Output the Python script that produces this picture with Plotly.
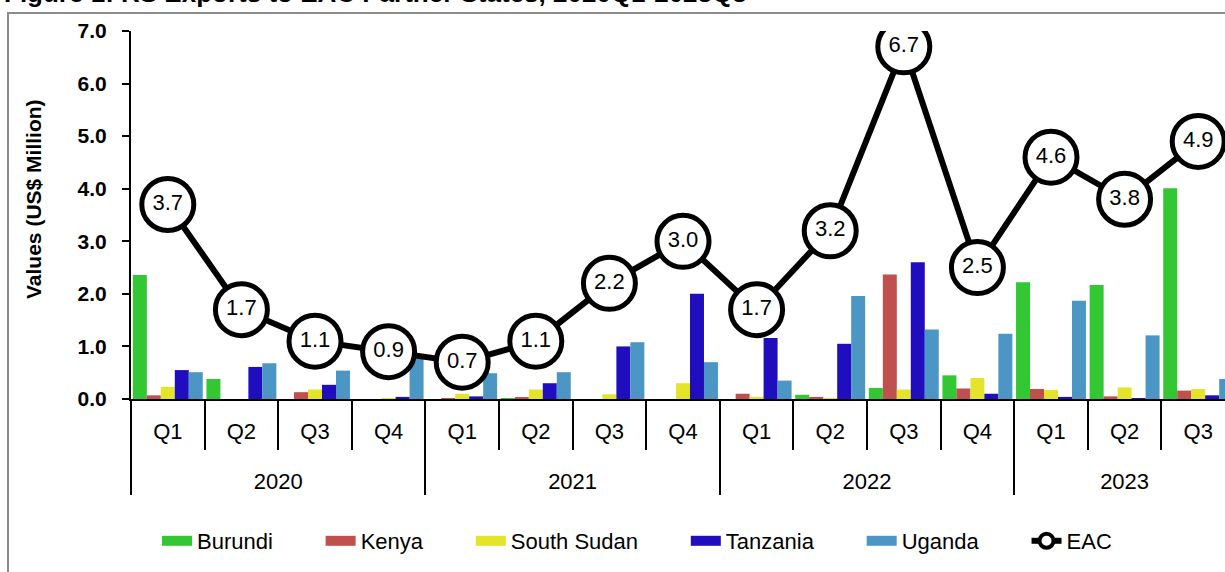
import plotly.graph_objects as go

years = ["2020"] * 4 + ["2021"] * 4 + ["2022"] * 4 + ["2023"] * 3
quarters = ["Q1", "Q2", "Q3", "Q4"] * 3 + ["Q1", "Q2", "Q3"]

burundi = [2.36, 0.38, 0.00, 0.00, 0.00, 0.01, 0.00, 0.00, 0.00, 0.08, 0.21, 0.45, 2.22, 2.17, 4.01]
kenya = [0.07, 0.00, 0.13, 0.00, 0.01, 0.03, 0.00, 0.00, 0.10, 0.04, 2.37, 0.20, 0.19, 0.05, 0.16]
south_sudan = [0.23, 0.00, 0.18, 0.01, 0.10, 0.18, 0.09, 0.30, 0.04, 0.01, 0.18, 0.40, 0.17, 0.22, 0.19]
tanzania = [0.55, 0.61, 0.27, 0.04, 0.05, 0.30, 1.00, 2.00, 1.16, 1.05, 2.60, 0.10, 0.04, 0.01, 0.07]
uganda = [0.51, 0.68, 0.54, 0.80, 0.49, 0.51, 1.08, 0.70, 0.35, 1.96, 1.32, 1.24, 1.87, 1.21, 0.38]
eac = [3.7, 1.7, 1.1, 0.9, 0.7, 1.1, 2.2, 3.0, 1.7, 3.2, 6.7, 2.5, 4.6, 3.8, 4.9]

y_ticks = [0, 1, 2, 3, 4, 5, 6, 7]

FONT = "Liberation Sans, Arial, sans-serif"
NBSP = "\u00a0"

# quarter labels get an empty second line so the year row sits lower
x = [years, [q + "<br><span style='font-size:50px'>" + NBSP + "</span>" for q in quarters]]
fig = go.Figure()
series = [
    ("Burundi", burundi, "#33C733"),
    ("Kenya", kenya, "#C0504D"),
    ("South Sudan", south_sudan, "#E4E42A"),
    ("Tanzania", tanzania, "#200DBE"),
    ("Uganda", uganda, "#4B96C4"),
]
for name, vals, col in series:
    fig.add_trace(go.Bar(x=x, y=vals, name=name, legendgroup=name, showlegend=False,
                         marker=dict(color=col, line=dict(width=0))))

fig.add_trace(go.Scatter(
    x=x, y=eac, name="EAC", legendgroup="EAC", showlegend=False, mode="lines+markers",
    line=dict(color="black", width=6),
    marker=dict(size=52, color="white", line=dict(color="black", width=5)),
))
fig.add_trace(go.Scatter(
    x=x, y=eac, mode="text", text=[f"{v:.1f}" for v in eac], showlegend=False,
    textposition="middle center", textfont=dict(family=FONT, size=22, color="black"),
    hoverinfo="skip",
))

# legend entries (wide swatches), padded so spacing matches the original
pad = NBSP * 7
for name, vals, col in series:
    fig.add_trace(go.Scatter(x=x, y=[None] * len(vals), name=name + pad, legendgroup=name,
                             mode="lines", line=dict(color=col, width=14), hoverinfo="skip"))
fig.add_trace(go.Scatter(x=x, y=[None] * len(eac), name="EAC", legendgroup="EAC",
                         mode="lines+markers", line=dict(color="black", width=6),
                         marker=dict(size=14, color="white", line=dict(color="black", width=4)),
                         hoverinfo="skip"))

W, H = 1225, 572
L, R, T, B = 131, 0, 31, 173
PH = H - T - B
PW = W - L - R

def py(p):
    return (H - B - p) / PH

def px(p):
    return (p - L) / PW

fig.update_layout(
    width=W, height=H, autosize=False,
    margin=dict(l=L, r=R, t=T, b=B, pad=0),
    paper_bgcolor="white", plot_bgcolor="white",
    barmode="group", bargap=0.05, bargroupgap=0,
    font=dict(family=FONT, color="black"),
    showlegend=True,
    legend=dict(orientation="h", x=px(157), xanchor="left", y=py(541), yanchor="middle",
                font=dict(family=FONT, size=22), itemwidth=30, bgcolor="rgba(0,0,0,0)",
                traceorder="normal"),
    shapes=[dict(type="rect", xref="paper", yref="paper",
                 x0=px(8), x1=px(1300), y0=py(700), y1=py(13),
                 line=dict(color="#8c8c8c", width=2), fillcolor="rgba(0,0,0,0)", layer="below")],
    annotations=[
        dict(text="<b>Figure 1: RS Exports to EAC Partner States, 2020Q1-2023Q3</b>",
             xref="paper", yref="paper", x=px(2), y=py(10), xanchor="left", yanchor="bottom",
             showarrow=False, font=dict(family=FONT, size=26)),
        dict(text="<b>Values (US$ Million)</b>", textangle=-90,
             xref="paper", yref="paper", x=px(33), y=py(199), xanchor="center", yanchor="middle",
             showarrow=False, font=dict(family=FONT, size=21)),
    ],
)

fig.update_yaxes(
    range=[0, 7], tickvals=y_ticks, ticktext=[f"<b>{v:.1f}</b>" for v in y_ticks],
    tickfont=dict(family=FONT, size=21),
    showgrid=False, zeroline=False, showline=True, linecolor="black", linewidth=2,
    ticks="outside", ticklen=7, tickwidth=2, tickcolor="black", ticklabelstandoff=11,
)
fig.update_xaxes(
    type="multicategory", range=[-0.5, -0.5 + PW / 73.6],
    tickfont=dict(family=FONT, size=22), ticklabelstandoff=12,
    showgrid=False, zeroline=False, showline=True, linecolor="black", linewidth=2,
    ticks="outside", tickson="boundaries", ticklen=49, tickwidth=2, tickcolor="black",
    showdividers=True, dividercolor="black", dividerwidth=2,
)

fig.write_html("out.html", config={"displayModeBar": False},
               post_script="document.body.style.margin='0px';")
